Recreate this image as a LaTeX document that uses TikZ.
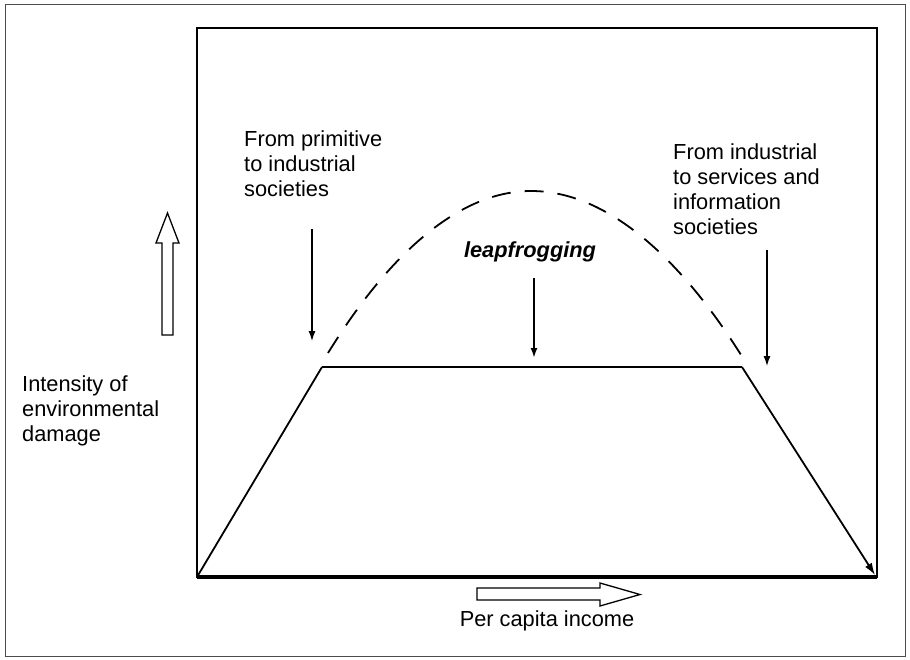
\documentclass[tikz,border=0pt]{standalone}
\usepackage{fontspec}
\setmainfont{Liberation Sans}
\usetikzlibrary{arrows.meta}

\begin{document}
\begin{tikzpicture}[x=1pt, y=-1pt,
	lbl/.style={align=left, anchor=north west, inner sep=0pt, font=\fontsize{21.8}{25}\selectfont},
	pointer/.style={-{Latex[length=10pt,width=7pt]}, line width=1.2pt},
	hollow/.style={draw, line width=1.3pt, line join=miter, fill=white}]
	\useasboundingbox (0,0) rectangle (910,660);
	\draw[black!70, line width=.8pt] (5,4) rectangle (905,656);

	% axes box
	\coordinate (O) at (197,577);
	\coordinate (E) at (877,577);
	\draw[line width=1.6pt] (O) rectangle (877,28);
	\draw[line width=3.5pt] (O) -- (E);

	% curve with plateau
	\coordinate (A) at (322,367);
	\coordinate (B) at (742,367);
	\coordinate (P) at (531,191);
	\draw[line width=1.8pt] (O) -- (A);
	\draw[line width=1.2pt] (A) -- (B);
	\draw[line width=1.8pt, -{Latex[length=12pt,width=8pt]}] (B) -- (875,575);

	% dashed hump
	\draw[line width=1.8pt, dash pattern=on 19pt off 14pt] (328,353) parabola bend (P) (743,358);

	% labels
	\node[lbl] (prim) at (244,131) {From primitive\\to industrial\\societies};
	\node[lbl] (serv) at (673,144) {From industrial\\to services and\\information\\societies};
	\node[lbl] (ylab) at (22,376) {Intensity of\\environmental\\damage};
	\node[lbl, anchor=center, font=\fontsize{21.8}{25}\selectfont\bfseries\itshape] (leap) at (530,252) {leapfrogging};
	\node[lbl, anchor=center] (xlab) at (547,621) {Per capita income};

	% pointers
	\draw[pointer] (312,229) -- (312,341);
	\draw[pointer, line width=2pt] (534,278) -- (534,358);
	\draw[pointer] (767,250) -- (767,366);

	% open arrows
	\draw[hollow] (162,335) -- (162,243) -- (156,243) -- (167.5,213) -- (179,243) -- (173,243) -- (173,335) -- cycle;
	\draw[hollow] (477,588) -- (600,588) -- (600,583) -- (640,594.5) -- (600,606) -- (600,600) -- (477,600) -- cycle;
\end{tikzpicture}
\end{document}
